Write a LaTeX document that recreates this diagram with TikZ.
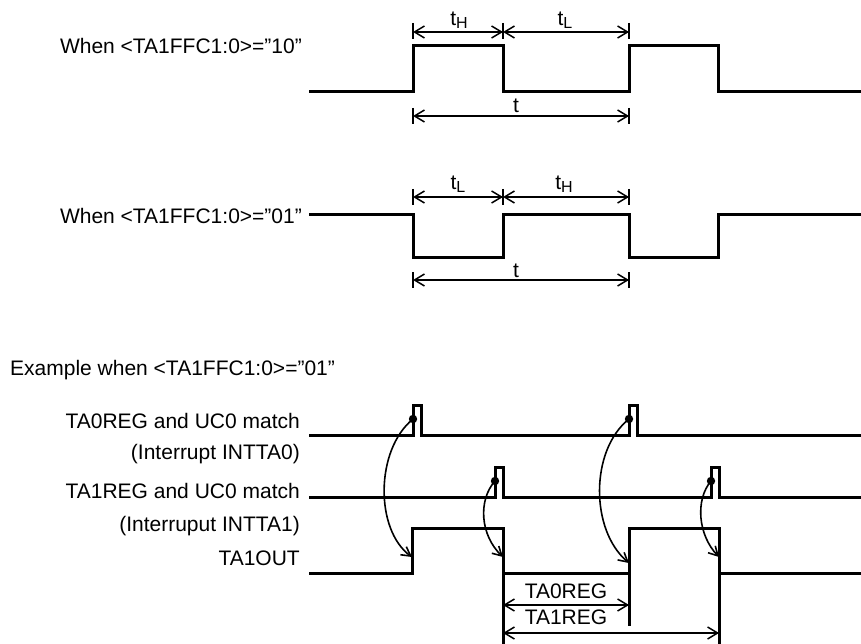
\documentclass[tikz,border=0pt]{standalone}
\usepackage{fontspec}
\setmainfont{Liberation Sans}
\usetikzlibrary{arrows.meta}
\begin{document}
\begin{tikzpicture}[x=1pt,y=-1pt,
  wave/.style={line width=3pt, line join=miter},
  dimline/.style={line width=1.5pt, {Straight Barb[length=10pt,width=12pt]}-{Straight Barb[length=10pt,width=12pt]}},
  tickmark/.style={line width=2.6pt},
  lbl/.style={font=\fontsize{21}{24}\selectfont, inner sep=0pt},
  cue/.style={line width=1.6pt, -{Straight Barb[length=9pt,width=10pt]}}]
\newcommand{\tsub}[1]{t\raisebox{-3pt}{\fontsize{16}{17}\selectfont #1}}
\useasboundingbox (0,0) rectangle (861,644);
\fill[white] (0,0) rectangle (861,644);

% ---------- labels ----------
\node[lbl, anchor=base east] (l10) at (302,54) {When <TA1FFC1:0>=”10”};
\node[lbl, anchor=base east] (l01) at (302,224) {When <TA1FFC1:0>=”01”};
\node[lbl, anchor=base west] (lex) at (10,375) {Example when <TA1FFC1:0>=”01”};
\node[lbl, anchor=base east] (lm0) at (300,428) {TA0REG and UC0 match};
\node[lbl, anchor=base east] (li0) at (300,459) {(Interrupt INTTA0)};
\node[lbl, anchor=base east] (lm1) at (300,498) {TA1REG and UC0 match};
\node[lbl, anchor=base east] (li1) at (300,531) {(Interruput INTTA1)};
\node[lbl, anchor=base east] (lout) at (300,565) {TA1OUT};

% ---------- waveform 1 ----------
\draw[wave] (309,92) -- (413,92) -- (413,46) -- (503,46) -- (503,92) -- (629,92) -- (629,46) -- (718,46) -- (718,92) -- (861,92);
\foreach \x in {413,503,629} \draw[tickmark] (\x,23) -- (\x,39);
\draw[dimline] (413,32) -- (503,32);
\draw[dimline] (503,32) -- (629,32);
\node[lbl, anchor=base] (tH1) at (459,26) {\tsub{H}};
\node[lbl, anchor=base] (tL1) at (565,26) {\tsub{L}};
\foreach \x in {413,629} \draw[tickmark] (\x,108) -- (\x,124);
\draw[dimline] (413,116) -- (629,116);
\node[lbl, anchor=base] (t1) at (516,113) {t};

% ---------- waveform 2 ----------
\draw[wave] (309,215) -- (413,215) -- (413,257) -- (503,257) -- (503,215) -- (629,215) -- (629,257) -- (718,257) -- (718,215) -- (861,215);
\foreach \x in {413,503,629} \draw[tickmark] (\x,189) -- (\x,205);
\draw[dimline] (413,197) -- (503,197);
\draw[dimline] (503,197) -- (629,197);
\node[lbl, anchor=base] (tL2) at (458,190) {\tsub{L}};
\node[lbl, anchor=base] (tH2) at (564,190) {\tsub{H}};
\foreach \x in {413,629} \draw[tickmark] (\x,272) -- (\x,288);
\draw[dimline] (413,280) -- (629,280);
\node[lbl, anchor=base] (t2) at (516,277) {t};

% ---------- example ----------
\draw[wave] (309,435) -- (413,435) -- (413,405) -- (421,405) -- (421,435) -- (629,435) -- (629,405) -- (637,405) -- (637,435) -- (861,435);
\draw[wave] (309,497) -- (495,497) -- (495,467) -- (503,467) -- (503,497) -- (711,497) -- (711,467) -- (719,467) -- (719,497) -- (861,497);
\draw[wave] (309,573) -- (412,573) -- (412,528) -- (503,528) -- (503,573) -- (629,573) -- (629,528) -- (719,528) -- (719,573) -- (861,573);
\draw[wave] (503,573) -- (503,644);
\draw[wave] (629,573) -- (629,626);
\draw[wave] (719,573) -- (719,644);

\draw[dimline] (503,605) -- (629,605);
\draw[dimline] (503,633) -- (719,633);
\node[lbl, anchor=base] (r0) at (566,598) {TA0REG};
\node[lbl, anchor=base] (r1) at (566,624) {TA1REG};

\coordinate (d1) at (413,419);
\coordinate (d2) at (495,481);
\coordinate (d3) at (629,419);
\coordinate (d4) at (711,481);
\coordinate (e1) at (412,557);
\coordinate (e2) at (503,557);
\coordinate (e3) at (629,563);
\coordinate (e4) at (719,557);
\foreach \d in {d1,d2,d3,d4} \fill (\d) circle (4.2pt);
\draw[cue] (d1) .. controls (375,450) and (375,530) .. (e1);
\draw[cue] (d2) .. controls (478,500) and (480,535) .. (e2);
\draw[cue] (d3) .. controls (590,450) and (590,530) .. (e3);
\draw[cue] (d4) .. controls (695,500) and (698,535) .. (e4);
\end{tikzpicture}
\end{document}
